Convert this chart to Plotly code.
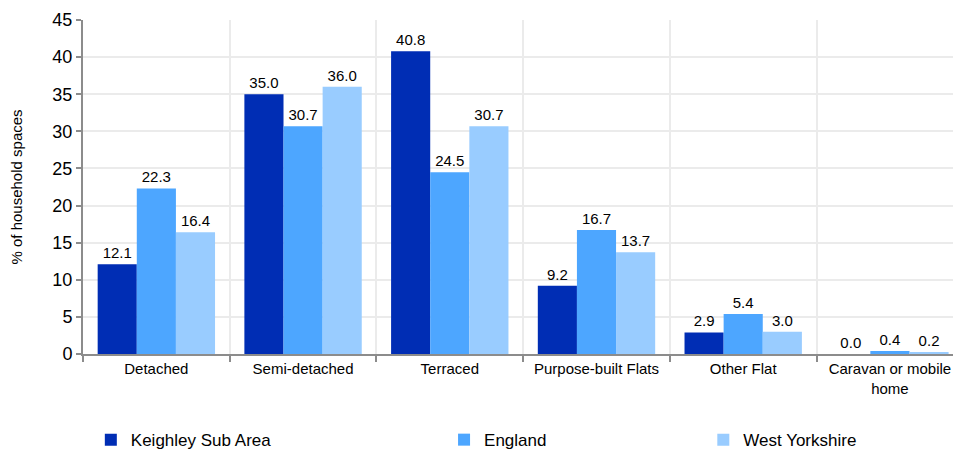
import plotly.graph_objects as go

categories = ["Detached", "Semi-detached", "Terraced", "Purpose-built Flats", "Other Flat", "Caravan or mobile<br>home"]
keighley = [12.1, 35.0, 40.8, 9.2, 2.9, 0.0]
england = [22.3, 30.7, 24.5, 16.7, 5.4, 0.4]
west_yorks = [16.4, 36.0, 30.7, 13.7, 3.0, 0.2]
series_names = ["Keighley Sub Area", "England", "West Yorkshire"]
colors = ["#002db4", "#4da6ff", "#99ccff"]
y_ticks = [0, 5, 10, 15, 20, 25, 30, 35, 40, 45]

xpos = list(range(len(categories)))
fig = go.Figure()
legend_ids = ["legend", "legend2", "legend3"]
for name, vals, col, lg in zip(series_names, [keighley, england, west_yorks], colors, legend_ids):
    fig.add_trace(go.Bar(
        x=xpos, y=vals, name=name, marker=dict(color=col, line=dict(width=0)),
        text=[f"{v:.1f}" for v in vals], textposition="outside",
        textfont=dict(size=15, color="#000000"), cliponaxis=False,
        legend=lg,
    ))

font = "Liberation Sans, Arial, sans-serif"
leg_common = dict(orientation="h", yref="container", yanchor="middle", y=0.022, xanchor="left",
                  font=dict(size=17, color="#000000", family=font),
                  bgcolor="rgba(0,0,0,0)", itemwidth=30, tracegroupgap=0)
fig.update_layout(
    width=953, height=450,
    margin=dict(l=83, r=0, t=20, b=96, autoexpand=False),
    paper_bgcolor="white", plot_bgcolor="white",
    font=dict(family=font, color="#000000"),
    barmode="group", bargap=0.2, bargroupgap=0,
    showlegend=True,
    legend=dict(x=0.009, **leg_common),
    legend2=dict(x=0.415, **leg_common),
    legend3=dict(x=0.713, **leg_common),
)
fig.update_xaxes(
    range=[-0.5, 5.43], tickmode="array", tickvals=xpos, ticktext=categories,
    ticks="", showgrid=False, tickfont=dict(size=15, color="#000000"),
    showline=True, linecolor="#8c8c8c", linewidth=2,
    minor=dict(tick0=0.5, dtick=1, ticks="outside", ticklen=6, tickcolor="#8c8c8c",
               tickwidth=2, showgrid=True, gridcolor="#ebebeb", gridwidth=2),
    zeroline=False,
)
fig.update_yaxes(
    range=[0, 45], tickmode="array", tickvals=y_ticks,
    ticks="outside", ticklen=5, tickcolor="#8c8c8c", tickwidth=2,
    tickfont=dict(size=18, color="#000000"),
    showline=True, linecolor="#8c8c8c", linewidth=2,
    showgrid=True, gridcolor="#ebebeb", gridwidth=2, zeroline=False,
    title=dict(text="% of household spaces", font=dict(size=15, color="#000000"), standoff=26),
)
fig.write_html("out.html")
